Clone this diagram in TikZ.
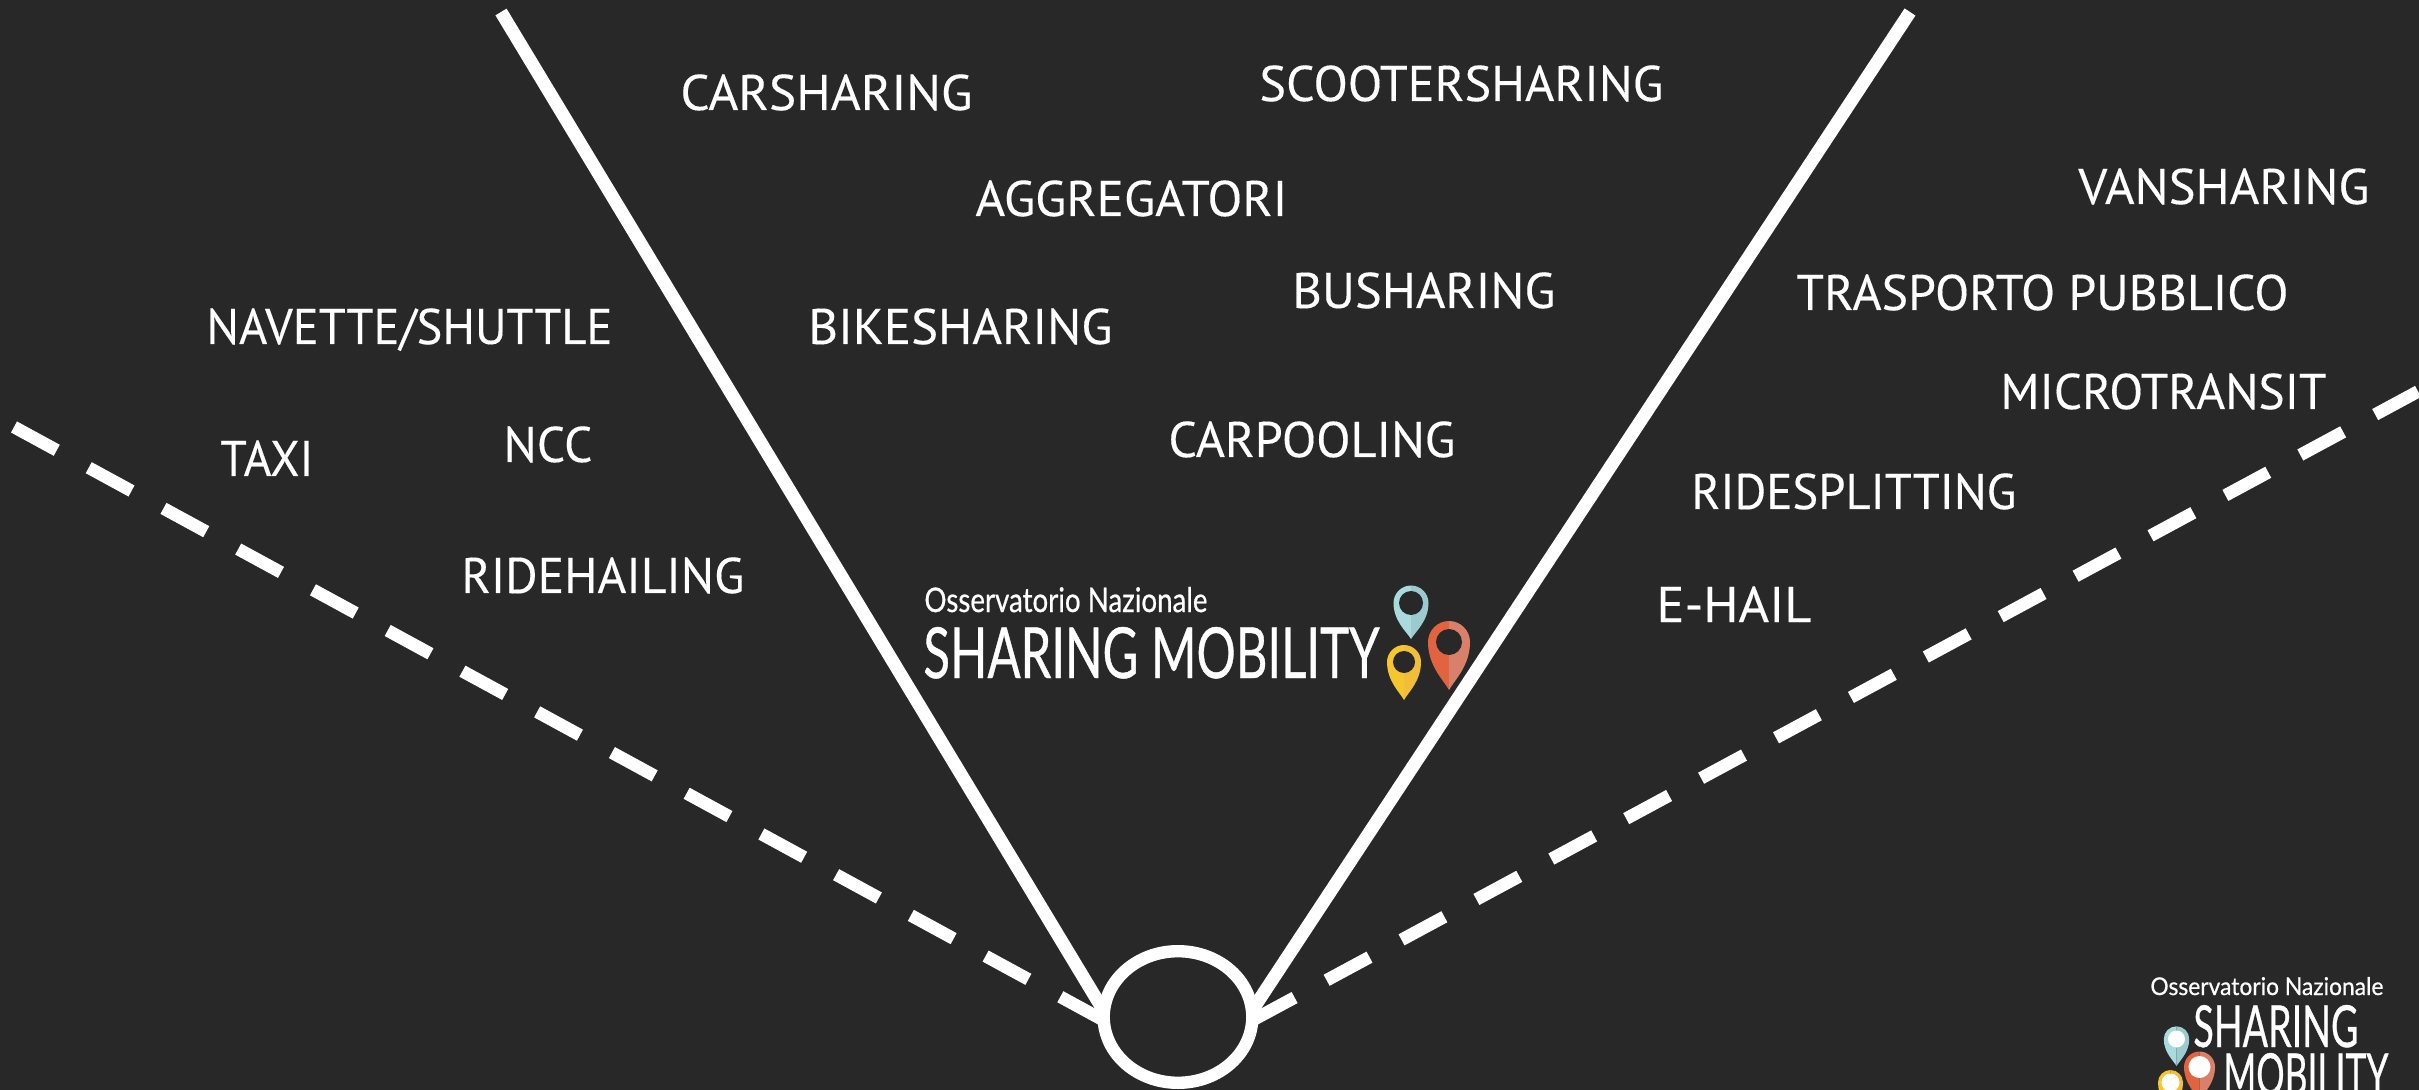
\documentclass[tikz,border=0pt]{standalone}
\usepackage{fontspec}
\usepackage{graphicx}
\usetikzlibrary{shapes.geometric}
\setmainfont[FakeBold=0.25]{PT Sans}
\newfontfamily\logofont[FakeBold=0.7]{Lato}
\definecolor{bgc}{HTML}{282828}
\definecolor{pinba}{HTML}{A9DADD}
\definecolor{pinbb}{HTML}{9CCBCF}
\definecolor{pinra}{HTML}{E2633F}
\definecolor{pinrb}{HTML}{D9806A}
\definecolor{pinya}{HTML}{F6C62E}
\definecolor{pinyb}{HTML}{F2BE3A}
\tikzset{
  lbl/.style={text=white,inner sep=0pt,font=\fontsize{25}{27}\selectfont,anchor=base west},
  solidline/.style={draw=white,line width=6.5pt,shorten >=-3pt},
  dashline/.style={draw=white,line width=6.3pt,dash pattern=on 24.35pt off 18.2pt},
  logotext/.style={text=white,inner sep=0pt,anchor=base west},
}
% cx cy R tipy colourLeft colourRight holeRadius holeColour
\newcommand{\pinshape}[8]{%
  \fill[#5] (#1,{#2-#3}) .. controls ({#1-.55*#3},{#2-#3}) and ({#1-#3},{#2-.55*#3}) .. ({#1-#3},#2)
     .. controls ({#1-#3},{#2+.5*(#4-#2)}) and ({#1-.25*#3},{#4-.2*(#4-#2)}) .. (#1,#4) -- cycle;
  \fill[#6] (#1,{#2-#3}) .. controls ({#1+.55*#3},{#2-#3}) and ({#1+#3},{#2-.55*#3}) .. ({#1+#3},#2)
     .. controls ({#1+#3},{#2+.5*(#4-#2)}) and ({#1+.25*#3},{#4-.2*(#4-#2)}) .. (#1,#4) -- cycle;
  \fill[#8] (#1,#2) circle[radius=#7];
}
\newcommand{\logoword}[3]{\resizebox{#1pt}{#2pt}{\logofont #3}}
\newcommand{\fitw}[2]{\resizebox{#1pt}{\height}{#2}}
\begin{document}
\begin{tikzpicture}[x=0.5pt,y=-0.5pt]
\useasboundingbox (0,0) rectangle (2419,1090);
\fill[bgc] (0,0) rectangle (2419,1090);
\begin{scope}
\clip (0,0) rectangle (2419,1090);
\node[draw=white,line width=6.2pt,ellipse,minimum width=74.3pt,minimum height=65.8pt,inner sep=0pt] (hub) at (1178,1017) {};
\coordinate (sl) at (501,12);
\coordinate (sr) at (1910,12);
\coordinate (dl) at (14,427);
\coordinate (dr) at (2430,385);
\draw[solidline] (sl) -- (hub.170);
\draw[solidline] (sr) -- (hub.10);
\draw[dashline,shorten >=-3pt] (dl) -- (hub.west);
\draw[dashline,shorten <=-3pt,dash phase=0.85pt] (hub.east) -- (dr);
\node[lbl] (a1) at (680,110) {\fitw{146}{CARSHARING}};
\node[lbl] (a2) at (1259,101) {\fitw{202}{SCOOTERSHARING}};
\node[lbl] (a3) at (975,216) {\fitw{156}{AGGREGATORI}};
\node[lbl] (a4) at (2078,204) {\fitw{145.5}{VANSHARING}};
\node[lbl] (a5) at (206,344) {\fitw{203}{NAVETTE/SHUTTLE}};
\node[lbl] (a6) at (808,344) {\fitw{152}{BIKESHARING}};
\node[lbl] (a7) at (1292,308) {\fitw{131.5}{BUSHARING}};
\node[lbl] (a8) at (1796,310) {\fitw{246}{TRASPORTO PUBBLICO}};
\node[lbl] (a9) at (2000,409) {\fitw{163}{MICROTRANSIT}};
\node[lbl] (a10) at (220,476) {\fitw{46.5}{TAXI}};
\node[lbl] (a11) at (503,462) {\fitw{44.5}{NCC}};
\node[lbl] (a12) at (1168,457) {\fitw{143.5}{CARPOOLING}};
\node[lbl] (a13) at (1691,509) {\fitw{162.5}{RIDESPLITTING}};
\node[lbl] (a14) at (461,593) {\fitw{141.5}{RIDEHAILING}};
\node[lbl] (a15) at (1656,622) {\fitw{77.5}{E-HAIL}};
% central logo
\node[logotext] (l1) at (924,612) {\logoword{141.5}{12.5}{Osservatorio Nazionale}};
\node[logotext] (l2) at (923,678) {\logoword{228}{25.5}{SHARING MOBILITY}};
\pinshape{1411}{603}{17.5}{639}{pinba}{pinbb}{12}{bgc}
\pinshape{1449}{642}{21}{690}{pinra}{pinrb}{13}{bgc}
\pinshape{1404}{662}{17}{700}{pinya}{pinyb}{11}{bgc}
% corner logo
\node[logotext] (c1) at (2150,995) {\logoword{116.5}{9}{Osservatorio Nazionale}};
\node[logotext] (c2) at (2193,1047) {\logoword{82.5}{21}{SHARING}};
\node[logotext] (c3) at (2223,1095) {\logoword{82.5}{21}{MOBILITY}};
\pinshape{2176.5}{1039}{12.7}{1066}{pinba}{pinbb}{8.5}{white}
\pinshape{2199.5}{1067}{15.5}{1100}{pinra}{pinrb}{11}{white}
\pinshape{2170.5}{1082.5}{12.5}{1112}{pinya}{pinyb}{9}{white}
\end{scope}
\end{tikzpicture}
\end{document}
